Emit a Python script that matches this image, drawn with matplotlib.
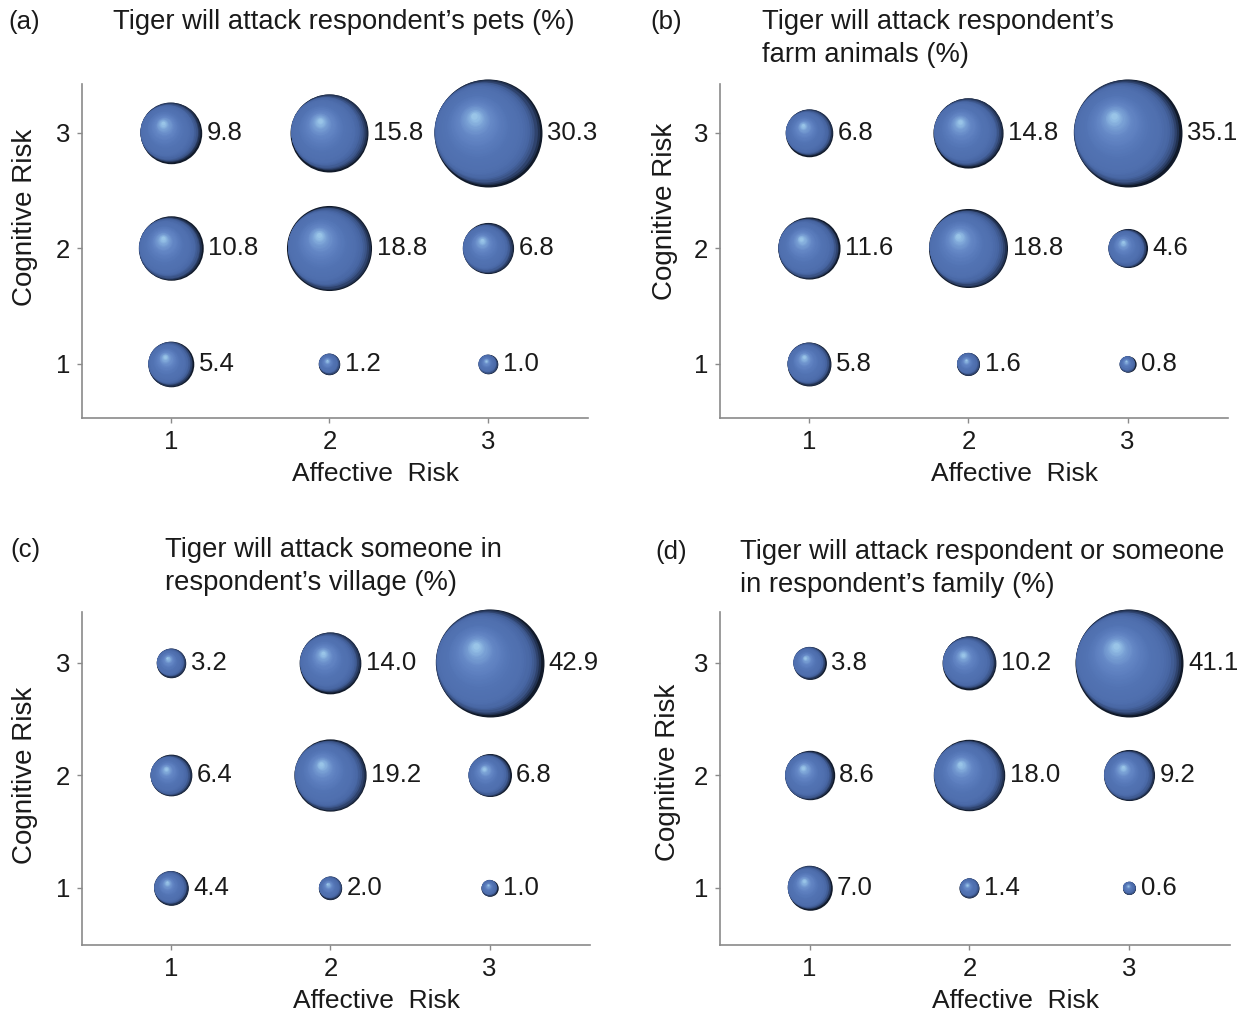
import matplotlib.pyplot as plt
from matplotlib.colors import LinearSegmentedColormap
from matplotlib.transforms import offset_copy
import numpy as np

plt.rcParams["font.family"] = ["Liberation Sans", "DejaVu Sans"]

AFFECTIVE = [1, 2, 3]
COGNITIVE = [1, 2, 3]

# rows = cognitive risk 1..3, columns = affective risk 1..3
PETS = [[5.4, 1.2, 1.0], [10.8, 18.8, 6.8], [9.8, 15.8, 30.3]]
FARM = [[5.8, 1.6, 0.8], [11.6, 18.8, 4.6], [6.8, 14.8, 35.1]]
VILLAGE = [[4.4, 2.0, 1.0], [6.4, 19.2, 6.8], [3.2, 14.0, 42.9]]
FAMILY = [[7.0, 1.4, 0.6], [8.6, 18.0, 9.2], [3.8, 10.2, 41.1]]

TAGS = ["(a)", "(b)", "(c)", "(d)"]
TITLES = [
    ["Tiger will attack respondent\u2019s pets (%)"],
    ["Tiger will attack respondent\u2019s", "farm animals (%)"],
    ["Tiger will attack someone in", "respondent\u2019s village (%)"],
    ["Tiger will attack respondent or someone", "in respondent\u2019s family (%)"],
]
XLABEL = "Affective  Risk"
YLABEL = "Cognitive Risk"

W, H = 1253, 1018
FS = 18.5
TXT = "#1a1a1a"
GRAY = "#8a8a8a"

# sphere shading: position 0 = outer rim, 1 = highlight (indexed by 1 - f)
SPHERE = LinearSegmentedColormap.from_list("sphere", [
    (0.00, "#111a2a"), (0.03, "#26375a"), (0.07, "#3b5487"),
    (0.12, "#4866a3"), (0.20, "#4f6fae"), (0.40, "#5273b3"),
    (0.55, "#5a7cbc"), (0.70, "#6588c6"), (0.82, "#789fd4"),
    (0.92, "#92bde4"), (1.00, "#acd6f1"),
])

# pixel boxes: left, right, top, bottom ; y limits
PANELS = [
    dict(box=(82, 588, 84, 418), ylim=(0.53, 3.42), tag=(8, 22), title=(113, 22),
         ylab=(-0.113, 0.60)),
    dict(box=(720, 1228, 84, 418), ylim=(0.53, 3.42), tag=(650, 22), title=(762, 22),
         ylab=(-0.108, 0.62)),
    dict(box=(82, 590, 612, 945), ylim=(0.49, 3.45), tag=(10, 550), title=(165, 550),
         ylab=(-0.112, 0.51)),
    dict(box=(720, 1230, 612, 945), ylim=(0.49, 3.45), tag=(655, 552), title=(740, 552),
         ylab=(-0.102, 0.52)),
]

fig = plt.figure(figsize=(W / 100, H / 100), dpi=100)

ang = np.deg2rad(165)


def sphere(ax, x, y, r_pt, n=40):
    for i in range(n):
        f = 1 - i / (n - 1) * 0.94
        t_out = min(1 - f, 0.2)
        t_in = max(0.0, 0.8 - f) / 0.74
        dx = (0.95 * t_out * np.cos(ang) - 0.07 * t_in) * r_pt
        dy = (0.95 * t_out * np.sin(ang) + 0.25 * t_in) * r_pt
        tr = offset_copy(ax.transData, fig=fig, units="points", x=dx, y=dy)
        ax.scatter([x], [y], s=(2 * r_pt * f) ** 2, color=SPHERE(1 - f),
                   transform=tr, linewidths=0, zorder=3 + i * 0.01, clip_on=False)


for k, grid in enumerate([PETS, FARM, VILLAGE, FAMILY]):
    p = PANELS[k]
    l, r, t, b = p["box"]
    ax = fig.add_axes([l / W, 1 - b / H, (r - l) / W, (b - t) / H])
    ax.set_xlim(0.44, 3.63)
    ax.set_ylim(*p["ylim"])

    vmax = max(max(row) for row in grid)
    for j, cy in enumerate(COGNITIVE):
        for i, cx in enumerate(AFFECTIVE):
            v = grid[j][i]
            r_pt = 54 * (v / vmax) ** 0.5 * 0.72
            sphere(ax, cx, cy, r_pt)
            ax.annotate(f"{v:.1f}", (cx, cy), xytext=(r_pt + 3.5, 0),
                        textcoords="offset points", ha="left", va="center",
                        fontsize=FS, color=TXT, zorder=10)

    for s in ["top", "right"]:
        ax.spines[s].set_visible(False)
    for s in ["left", "bottom"]:
        ax.spines[s].set_color(GRAY)
        ax.spines[s].set_linewidth(1.2)
    ax.set_xticks(AFFECTIVE)
    ax.set_yticks(COGNITIVE)
    ax.tick_params(colors=GRAY, labelcolor=TXT, labelsize=FS, length=3.5, width=1, pad=5)

    ax.set_xlabel(XLABEL, fontsize=19, color=TXT)
    ax.xaxis.set_label_coords(0.58, -0.168)
    ax.xaxis.label.set_va("center")
    ax.set_ylabel(YLABEL, fontsize=20, color=TXT)
    ax.yaxis.set_label_coords(*p["ylab"])
    ax.yaxis.label.set_va("center")

    tx, ty = p["tag"]
    fig.text(tx / W, 1 - ty / H, TAGS[k], fontsize=FS, color=TXT, ha="left", va="center")
    hx, hy = p["title"]
    for n, line in enumerate(TITLES[k]):
        fig.text(hx / W, 1 - (hy + 33 * n) / H, line, fontsize=19.7, color=TXT,
                 ha="left", va="center")

fig.savefig("out.png", dpi=100)
